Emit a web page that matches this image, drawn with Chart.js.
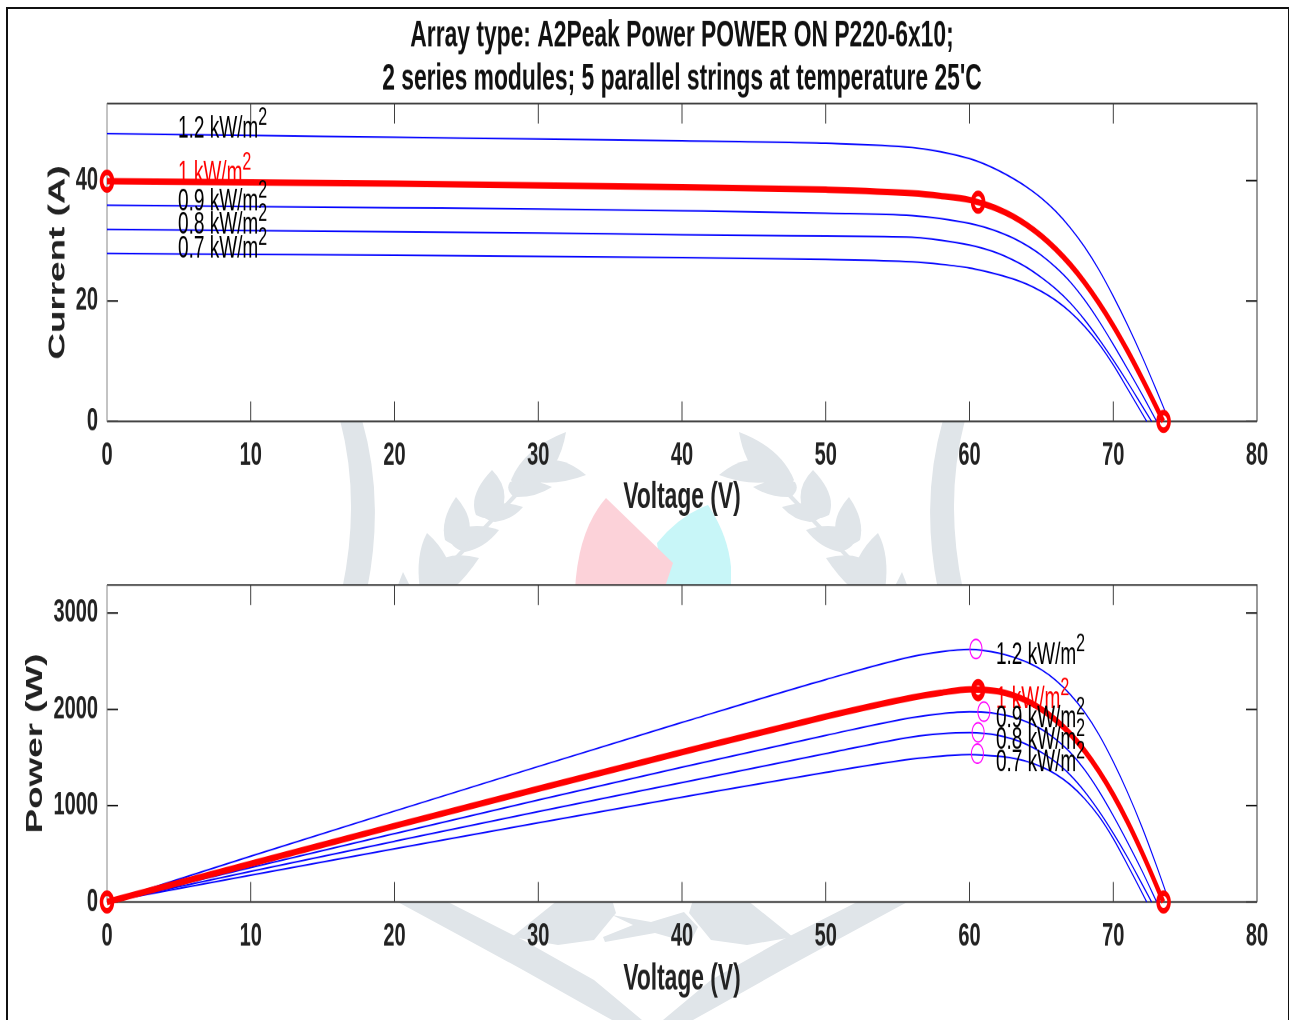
<!DOCTYPE html>
<html>
<head>
<meta charset="utf-8">
<title>PV array curves</title>
<script src="https://cdn.jsdelivr.net/npm/chart.js@4"></script>
<style>
  html, body { margin: 0; padding: 0; background: #fff; overflow: hidden; }
  #page { position: relative; width: 1289px; height: 1020px; }
  #frame { position: absolute; left: 6px; top: 7px; width: 1280px; height: 1020px; border: 2px solid #111; }
  #mark { position: absolute; left: 0; top: 0; }
  canvas { position: absolute; left: 0; transform-origin: 0 0; transform: scaleY(1.6); }
  #ivChart { top: 0; }
  #pvChart { top: 520px; }
</style>
</head>
<body>
<div id="page">
  <div id="frame"></div>
  <svg id="mark" width="1289" height="1020">
    <defs>
      <g id="half" fill="#e0e5e9">
        <path d="M340 420 Q361 500 342 590 L367 590 Q385 500 362 420 Z"/>
        <path d="M566 432 Q524 448 511 480 Q520 495 530 492 Q560 470 566 432 Z"/>
        <path d="M586 475 Q562 455 545 462 Q530 475 535 482 Q560 485 586 475 Z"/>
        <path d="M552 487 Q525 475 510 482 Q505 490 514 497 Q535 498 552 487 Z"/>
        <path d="M492 470 Q468 495 476 515 Q490 522 500 515 Q512 490 492 470 Z"/>
        <path d="M523 507 Q495 498 480 510 Q482 520 495 522 Q512 520 523 507 Z"/>
        <path d="M456 497 Q440 520 445 540 Q458 550 468 540 Q475 518 456 497 Z"/>
        <path d="M499 530 Q470 520 448 535 Q450 548 465 552 Q485 548 499 530 Z"/>
        <path d="M427 533 Q415 555 420 590 L456 590 Q452 555 427 533 Z"/>
        <path d="M479 558 Q450 550 432 565 L436 590 L452 590 Q468 575 479 558 Z"/>
        <path d="M403 572 L396 590 L412 590 Z"/>
        <path d="M530 480 L440 575" stroke="#e0e5e9" stroke-width="4"/>
        <path d="M444 900 L523 940 L594 980 L642 1020 L612 1020 L594 1010 L523 970 L455 933 L394 900 Z"/>
        <path d="M512 937 L558 900 L612 900 L616 913 L594 940 L558 945 Z"/>
      </g>
    </defs>
    <use href="#half"/>
    <use href="#half" transform="translate(1305 0) scale(-1 1)"/>
    <path fill="#e0e5e9" d="M612 915 L651 922 L684 912 L698 927 L690 943 L655 933 L605 942 L603 937 L633 925 Z"/>
    <path fill="#c8f6f8" d="M657 543 Q680 515 708 505 Q728 535 731 567 L731 590 L664 590 Z"/>
    <path fill="#fcd2d9" d="M606 498 Q578 530 575 590 L664 590 L673 563 Z"/>
  </svg>
  <canvas id="ivChart" width="1289" height="325"></canvas>
  <canvas id="pvChart" width="1289" height="301"></canvas>
</div>

<script>
// irradiance curves, same order in every array
const irradiance = ['1.2', '1', '0.9', '0.8', '0.7'];

const volts12 = [0, 10, 20, 30, 40, 50, 56, 58, 60, 61, 62, 63, 64, 65, 66, 67, 68, 69, 70, 71, 72, 73, 73.85];
const volts10 = [0, 10, 20, 30, 40, 50, 56, 58, 60, 61, 62, 63, 64, 65, 66, 67, 68, 69, 70, 71, 72, 73, 73.48];
const volts09 = [0, 10, 20, 30, 40, 50, 56, 58, 60, 61, 62, 63, 64, 65, 66, 67, 68, 69, 70, 71, 72, 73.02];
const volts08 = [0, 10, 20, 30, 40, 50, 56, 58, 60, 61, 62, 63, 64, 65, 66, 67, 68, 69, 70, 71, 72, 72.67];
const volts07 = [0, 10, 20, 30, 40, 50, 56, 58, 60, 61, 62, 63, 64, 65, 66, 67, 68, 69, 70, 71, 72, 72.33];

const amps12 = [47.8, 47.5, 47.2, 46.9, 46.6, 46.2, 45.5, 44.8, 43.65, 42.8, 41.7, 40.4, 38.9, 37.1, 34.9, 32.2, 29, 25.2, 20.8, 16, 10.8, 5.2, 0.3];
const amps10 = [39.9, 39.7, 39.5, 39.2, 38.9, 38.5, 37.9, 37.45, 36.8, 36.12, 35.25, 34.1, 32.62, 30.8, 28.62, 26.07, 23.1, 19.7, 15.9, 11.7, 7.15, 2.37, 0];
const amps09 = [35.9, 35.7, 35.5, 35.3, 35, 34.6, 34.2, 33.7, 32.9, 32.3, 31.5, 30.5, 29.2, 27.6, 25.6, 23.2, 20.2, 16.7, 12.8, 8.7, 4.5, 0];
const amps08 = [31.9, 31.7, 31.5, 31.3, 31, 30.8, 30.6, 30.1, 29.3, 28.7, 27.9, 26.85, 25.55, 23.9, 22, 19.7, 16.9, 13.7, 10.2, 6.5, 2.6, 0];
const amps07 = [27.9, 27.75, 27.6, 27.4, 27.2, 26.9, 26.5, 26.1, 25.5, 25, 24.4, 23.7, 22.8, 21.6, 20.1, 18.2, 15.8, 12.9, 9.4, 5.4, 1.35, 0];

const watts12 = [0, 475, 944, 1407, 1864, 2310, 2548, 2598, 2622, 2611, 2585, 2545, 2490, 2412, 2303, 2157, 1972, 1739, 1456, 1136, 778, 380, 22];
const watts10 = [0, 397, 790, 1176, 1556, 1925, 2122, 2172, 2208, 2203, 2186, 2148, 2088, 2002, 1889, 1747, 1571, 1359, 1113, 831, 515, 173, 0];
const watts09 = [0, 357, 710, 1059, 1400, 1730, 1915, 1955, 1974, 1970, 1953, 1922, 1869, 1794, 1690, 1554, 1374, 1152, 896, 618, 324, 0];
const watts08 = [0, 317, 630, 939, 1240, 1540, 1714, 1746, 1758, 1751, 1730, 1692, 1635, 1554, 1452, 1320, 1149, 945, 714, 462, 187, 0];
const watts07 = [0, 278, 552, 822, 1088, 1345, 1484, 1514, 1530, 1525, 1513, 1493, 1459, 1404, 1327, 1219, 1074, 890, 658, 383, 97, 0];

// marked points
const ivRedV = [0, 60.6, 73.5];
const ivRedI = [39.9, 36.4, 0];
const pvEndV = [0, 73.5];
const pvEndP = [0, 0];
const pvPeakV = [60.6];
const pvPeakP = [2200];
const pvMppV = [60.45, 61, 60.6, 60.55];
const pvMppP = [2627, 1976, 1762, 1540];

// curve labels, anchored at left end of text
const ivLabelV = [4.94, 4.94, 4.94, 4.94, 4.94];
const ivLabelI = [47.2, 39.7, 35.1, 31.2, 27.2];
const pvLabelV = [61.84, 61.84, 61.84, 61.84, 61.84];
const pvLabelP = [2469, 2018, 1818, 1592, 1361];

const titleLines = [
  'Array type: A2Peak Power POWER ON P220-6x10;',
  "2 series modules; 5 parallel strings at temperature 25'C"
];
const xTicks = [0, 10, 20, 30, 40, 50, 60, 70, 80];
const ivTicks = [0, 20, 40];
const pvTicks = [0, 1000, 2000, 3000];

const zip = (xs, ys) => xs.map((x, i) => ({ x: x, y: ys[i] }));

function curve(label, xs, ys) {
  const red = label === '1';
  return {
    label: label + ' kW/m2',
    data: zip(xs, ys),
    showLine: true,
    borderColor: red ? '#ff0000' : '#0000ff',
    borderWidth: red ? 4 : 1,
    pointRadius: 0,
    cubicInterpolationMode: 'monotone',
    clip: false,
    order: red ? 2 : 3
  };
}

function rings(label, xs, ys, color, radius, width) {
  return {
    label: label,
    data: zip(xs, ys),
    showLine: false,
    pointStyle: 'circle',
    pointRadius: radius,
    pointBorderWidth: width,
    pointBorderColor: color,
    pointBackgroundColor: 'rgba(0,0,0,0)',
    clip: false,
    order: 1
  };
}

const axesPlugin = {
  id: 'axesPlugin',
  beforeDraw(chart) {
    const a = chart.chartArea;
    chart.ctx.save();
    chart.ctx.fillStyle = '#fff';
    chart.ctx.fillRect(a.left, a.top, a.width, a.height);
    chart.ctx.restore();
  },
  beforeDatasetsDraw(chart) {
    const ctx = chart.ctx, a = chart.chartArea;
    const x = chart.scales.x, y = chart.scales.y;
    ctx.save();
    ctx.lineWidth = 0.8;
    ctx.strokeStyle = '#111';
    x.ticks.forEach(t => {
      const px = x.getPixelForValue(t.value);
      ctx.beginPath();
      ctx.moveTo(px, a.bottom); ctx.lineTo(px, a.bottom - 12.5);
      ctx.moveTo(px, a.top); ctx.lineTo(px, a.top + 12.5);
      ctx.stroke();
    });
    ctx.lineWidth = 1;
    y.ticks.forEach(t => {
      const py = y.getPixelForValue(t.value);
      ctx.beginPath();
      ctx.moveTo(a.left, py); ctx.lineTo(a.left + 11, py);
      ctx.moveTo(a.right, py); ctx.lineTo(a.right - 11, py);
      ctx.stroke();
    });
    ctx.strokeStyle = '#333';
    ctx.lineWidth = 1;
    ctx.beginPath();
    ctx.moveTo(a.left, a.top); ctx.lineTo(a.right, a.top); ctx.lineTo(a.right, a.bottom);
    ctx.stroke();
    ctx.strokeStyle = '#444';
    ctx.lineWidth = 1.2;
    ctx.beginPath();
    ctx.moveTo(a.left, a.bottom); ctx.lineTo(a.right, a.bottom);
    ctx.stroke();
    ctx.strokeStyle = '#888';
    ctx.lineWidth = 1;
    ctx.beginPath();
    ctx.moveTo(a.left, a.top); ctx.lineTo(a.left, a.bottom);
    ctx.stroke();
    ctx.restore();
  }
};

const labelPlugin = {
  id: 'labelPlugin',
  afterDatasetsDraw(chart, args, opts) {
    const ctx = chart.ctx;
    ctx.save();
    ctx.textBaseline = 'alphabetic';
    irradiance.forEach((g, i) => {
      const px = chart.scales.x.getPixelForValue(opts.xs[i]);
      const py = chart.scales.y.getPixelForValue(opts.ys[i]);
      const text = g + ' kW/m';
      ctx.fillStyle = g === '1' ? '#ff0000' : '#000';
      ctx.font = '19px "Liberation Sans"';
      ctx.fillText(text, px, py);
      const w = ctx.measureText(text).width;
      ctx.font = '16px "Liberation Sans"';
      ctx.fillText('2', px + w, py - 8);
    });
    ctx.restore();
  }
};

function makeChart(id, opts) {
  return new Chart(document.getElementById(id), {
    type: 'scatter',
    data: { datasets: opts.datasets },
    plugins: [axesPlugin, labelPlugin],
    options: {
      responsive: false,
      animation: false,
      devicePixelRatio: 2,
      layout: { padding: { top: opts.padTop, right: 32, left: 0, bottom: 0 } },
      plugins: {
        legend: { display: false },
        tooltip: { enabled: false },
        title: opts.title,
        labelPlugin: { xs: opts.labelXs, ys: opts.labelYs }
      },
      scales: {
        x: {
          type: 'linear',
          min: 0,
          max: 80,
          afterBuildTicks: s => { s.ticks = xTicks.map(v => ({ value: v })); },
          afterFit: s => { s.height = opts.xBox; },
          grid: { display: false },
          border: { display: false },
          ticks: {
            callback: v => String(v),
            color: '#222',
            font: { family: 'Liberation Sans', weight: 'bold', size: 20 },
            padding: 1.5,
            maxRotation: 0,
            autoSkip: false
          },
          title: {
            display: true,
            text: 'Voltage (V)',
            color: '#222',
            font: { family: 'Liberation Sans', weight: 'bold', size: 22.8 },
            padding: { top: 0, bottom: 0 }
          }
        },
        y: {
          type: 'linear',
          min: 0,
          max: opts.yMax,
          afterBuildTicks: s => { s.ticks = opts.yTicks.map(v => ({ value: v })); },
          afterFit: s => { s.width = 107; },
          grid: { display: false },
          border: { display: false },
          ticks: {
            callback: v => String(v),
            color: '#222',
            font: { family: 'Liberation Sans', weight: 'bold', size: 20 },
            padding: 1,
            autoSkip: false
          },
          title: {
            display: true,
            text: opts.yTitle,
            color: '#222',
            font: { family: 'Liberation Sans', weight: 'bold', size: 23 },
            padding: { top: opts.yTitlePad, bottom: 0 }
          }
        }
      }
    }
  });
}

makeChart('ivChart', {
  datasets: [
    curve('1.2', volts12, amps12),
    curve('1', volts10, amps10),
    curve('0.9', volts09, amps09),
    curve('0.8', volts08, amps08),
    curve('0.7', volts07, amps07),
    rings('1 kW/m2 marks', ivRedV, ivRedI, '#ff0000', 5.5, 3.5)
  ],
  padTop: 0,
  title: {
    display: true,
    text: titleLines,
    fullSize: false,
    color: '#111',
    font: { family: 'Liberation Sans', weight: 'bold', size: 22.85, lineHeight: 1.182 },
    padding: { top: 9.4, bottom: 1.3 }
  },
  xBox: 61.6,
  yMax: 52.8,
  yTicks: ivTicks,
  yTitle: 'Current (A)',
  yTitlePad: 44.5,
  labelXs: ivLabelV,
  labelYs: ivLabelI
});

makeChart('pvChart', {
  datasets: [
    curve('1.2', volts12, watts12),
    curve('1', volts10, watts10),
    curve('0.9', volts09, watts09),
    curve('0.8', volts08, watts08),
    curve('0.7', volts07, watts07),
    rings('end marks', pvEndV, pvEndP, '#ff0000', 5.5, 3.5),
    rings('peak mark', pvPeakV, pvPeakP, '#ff0000', 5, 4),
    rings('max power marks', pvMppV, pvMppP, '#ff00ff', 6, 1)
  ],
  padTop: 40.6,
  title: { display: false },
  xBox: 62.25,
  yMax: 3292,
  yTicks: pvTicks,
  yTitle: 'Power (W)',
  yTitlePad: 22,
  labelXs: pvLabelV,
  labelYs: pvLabelP
});
</script>
</body>
</html>
